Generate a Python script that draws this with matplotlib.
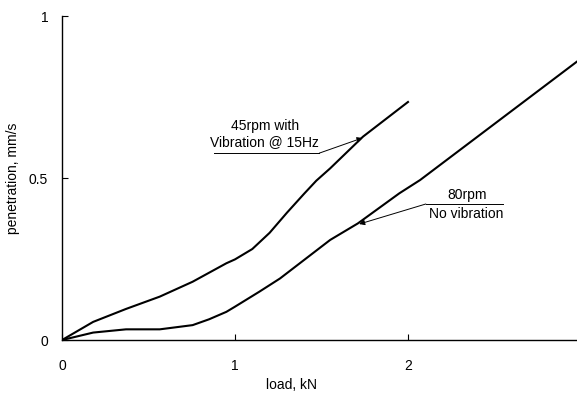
import matplotlib
matplotlib.use("Agg")
import matplotlib.pyplot as plt

plt.rcParams["font.family"] = ["Liberation Sans", "DejaVu Sans"]
plt.rcParams["font.size"] = 10

# 45 rpm with vibration at 15 Hz
load_45 = [0, 0.18, 0.37, 0.565, 0.755, 0.95, 1.0, 1.1, 1.2, 1.3, 1.4, 1.47, 1.55, 1.74, 2.0]
pen_45 = [0, 0.056, 0.096, 0.134, 0.18, 0.237, 0.249, 0.281, 0.331, 0.393, 0.452, 0.492, 0.53, 0.628, 0.735]

# 80 rpm, no vibration
load_80 = [0, 0.18, 0.37, 0.565, 0.755, 0.85, 0.95, 1.0, 1.14, 1.26, 1.55, 1.71, 1.95, 2.07, 2.975]
pen_80 = [0, 0.023, 0.033, 0.033, 0.046, 0.064, 0.087, 0.103, 0.149, 0.19, 0.309, 0.36, 0.453, 0.494, 0.859]

x_ticks = [0, 1, 2]
y_ticks = [0, 0.5, 1]
y_tick_labels = ["0", "0.5", "1"]

fig = plt.figure(figsize=(5.77, 3.94), dpi=100)
ax = fig.add_axes([0.1075, 0.137, 0.8925, 0.822])

ax.plot(load_45, pen_45, color="black", lw=1.5)
ax.plot(load_80, pen_80, color="black", lw=1.5)

ax.set_xlim(0, 2.977)
ax.set_ylim(0, 1)
ax.set_xticks(x_ticks)
ax.set_yticks(y_ticks)
ax.set_yticklabels(y_tick_labels)
ax.tick_params(direction="in", length=4, width=0.8, pad=14)
ax.tick_params(axis="y", pad=10)

for side in ["top", "right"]:
    ax.spines[side].set_visible(False)
for side in ["left", "bottom"]:
    ax.spines[side].set_linewidth(1.0)

ax.set_xlabel("load, kN")
ax.set_ylabel("penetration, mm/s")
ax.xaxis.set_label_coords(0.446, -0.117)
ax.yaxis.set_label_coords(-0.082, 0.5)

# label for the upper curve, underlined with a leader to the line
ax.text(1.172, 0.59, "45rpm with\nVibration @ 15Hz", ha="center", va="bottom", linespacing=1.2)
ax.plot([0.88, 1.487], [0.577, 0.577], color="black", lw=0.7)
ax.annotate("", xy=(1.737, 0.624), xytext=(1.487, 0.577),
            arrowprops=dict(arrowstyle="-|>", color="black", lw=0.7,
                            mutation_scale=8, shrinkA=0, shrinkB=0))

# label for the lower curve, split by its leader line
ax.text(2.341, 0.426, "80rpm", ha="center", va="bottom")
ax.plot([2.103, 2.549], [0.420, 0.420], color="black", lw=0.7)
ax.text(2.335, 0.412, "No vibration", ha="center", va="top")
ax.annotate("", xy=(1.718, 0.358), xytext=(2.103, 0.420),
            arrowprops=dict(arrowstyle="-|>", color="black", lw=0.7,
                            mutation_scale=8, shrinkA=0, shrinkB=0))

fig.savefig("out.png", dpi=100)
